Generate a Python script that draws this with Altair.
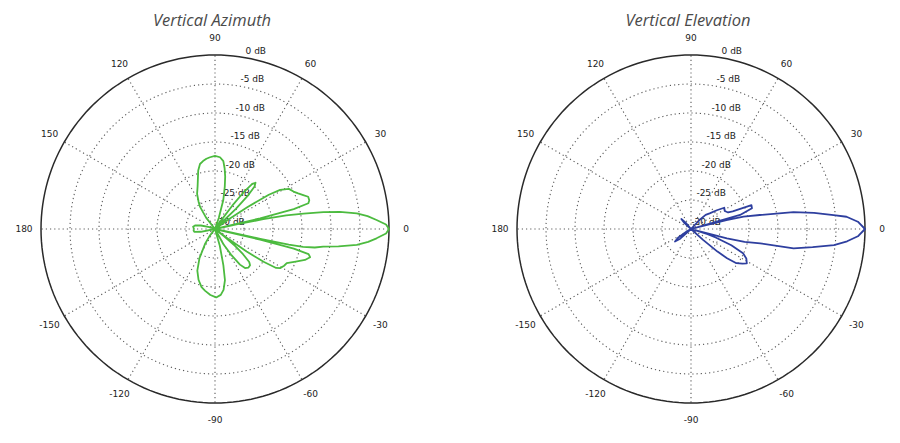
import altair as alt
import pandas as pd
import numpy as np

# ---------------- data ----------------
titles = ["Vertical Azimuth", "Vertical Elevation"]

az_angle = [-180, -176, -172, -169, -165, -150, -135, -128, -124, -118, -113, -108, -103, -99, -94,
            -89, -85, -82, -79, -77, -74, -70, -65, -61, -58, -55, -52.5, -49, -46, -44, -42, -40,
            -38.5, -37.5, -36.5, -35.5, -34, -32.5, -31, -28, -25.5, -22, -19, -16.5, -15, -14,
            -13.3, -12.7, -12.3, -12.0, -11.5, -10.5, -9.3, -8, -6.4, -4.8, -3.3, -1.5, 0,
            1.5, 3.2, 4.8, 6.3, 7.8, 8.9, 9.8, 10.8, 11.5, 12, 12.5, 13.3, 14.2, 15.4, 17, 19.1,
            21, 23.2, 25.5, 28.5, 31, 32.5, 34, 35.5, 37, 42, 44, 45.5, 47, 48.8, 50.5, 52, 53.5,
            55, 57, 68, 71, 74, 77, 79, 81, 83, 86, 90, 94, 97, 100, 103, 106, 108, 112, 117,
            121, 124, 128, 132, 150, 160, 166, 170, 174, 180]
az_db = [-26.4, -26.3, -26.4, -27.5, -30, -31, -30, -28.5, -27, -24.3, -22.2, -20.8, -19.7, -19.2, -18.6,
         -18.2, -18.6, -19.4, -21, -23.6, -27, -30, -30, -27, -24.8, -22.5, -21.5, -21.2, -21.3, -21.8, -23.5, -25.5,
         -28, -30, -27, -23.3, -19.9, -17.5, -16.9, -16.5, -16.3, -15, -13.6, -12.9, -13.3, -16,
         -22, -30, -22, -17, -14.5, -12.5, -11.1, -8.5, -5.4, -3.5, -2.1, -0.5, 0,
         -0.5, -2.1, -3.6, -5.4, -8.3, -11.1, -14.5, -17.5, -21.5, -26, -30, -22, -16, -13.3, -13, -13,
         -13.7, -14.4, -15, -15.5, -16.9, -19, -23.3, -27, -30, -30, -25, -21.8, -20, -19.4, -19.9, -21.8, -25,
         -28.5, -30, -30, -28, -24.8, -22.5, -20.8, -19.4, -18.2, -17.6, -17.4, -17.6, -17.8, -18.1, -18.5, -19.5, -20.5, -22, -23.2,
         -24.5, -25.4, -27.5, -30, -30.5, -29, -27.5, -26.5, -26.2, -26.4]

el_angle = [-180, -160, -150, -146, -142, -138, -134, -120, -60, -46, -42, -40.5, -39, -37, -34,
            -31.6, -28, -25, -22, -19, -17, -15.5, -14.8, -14.6, -13.5, -11.7, -10.7, -8.5, -6.4,
            -4.5, -2.5, 0, 2.5, 4.5, 5.6, 7.5, 9.3, 11.5, 13.2, 14.1, 14.5, 16, 18.8, 21.5, 22.8,
            24, 28, 32.6, 36, 40, 44, 47, 50, 125, 130, 134, 138, 142, 180]
el_db = [-31, -31, -29, -27.3, -26.5, -27.5, -30, -31, -31, -30, -27.2, -24, -22, -20.2, -19.3,
         -18.7, -19.2, -20.1, -22.5, -25.5, -27, -30, -26, -23.6, -20.5, -17.8, -12, -8.8, -5.2,
         -3, -1.2, 0, -1.2, -3.1, -5.3, -8.6, -12.1, -17.9, -20.7, -23.7, -30, -21.2, -18.9, -18.8, -22.2,
         -23, -23.4, -23.2, -24.5, -25.8, -26.5, -28, -31, -31, -28.5, -27.6, -28.5, -31, -31]

ring_levels = [-25, -20, -15, -10, -5]
outer_level = 0
floor_db = -30
spoke_angles = [0, 30, 60, 90, 120, 150, 180, 210, 240, 270, 300, 330]
spoke_labels = ["0", "30", "60", "90", "120", "150", "180", "-150", "-120", "-90", "-60", "-30"]
db_levels = [0, -5, -10, -15, -20, -25, -30]
db_labels = ["0 dB", "-5 dB", "-10 dB", "-15 dB", "-20 dB", "-25 dB", "-30 dB"]

# ---------------- layout ----------------
W, H = 880, 420
K = 5.8              # px per dB
CX = [207, 683]      # panel centres (px)
CY = 221
LABEL_R = 191        # px radius of angle labels
DBLAB_ANG = 80
DBLAB_OFF = 2
TITLE_TOP = 5        # px below top edge
cx_d = [c / K for c in CX]
cy_d = (H - CY) / K
span = -floor_db

xs = alt.Scale(domain=[0, W / K], nice=False, zero=False)
ys = alt.Scale(domain=[0, H / K], nice=False, zero=False)

XE = f"({cx_d[0]} + (datum.p == 0 ? 0 : {cx_d[1] - cx_d[0]}) + datum.rr * cos(datum.a * PI / 180))"
YE = f"({cy_d} + datum.rr * sin(datum.a * PI / 180))"
CXE = f"({cx_d[0]} + (datum.p == 0 ? 0 : {cx_d[1] - cx_d[0]}))"


def xy(ch):
    return ch.transform_calculate(x=XE, y=YE)


def enc_xy():
    return dict(x=alt.X("x:Q", scale=xs, axis=None), y=alt.Y("y:Q", scale=ys, axis=None))


# grid rings
ang_t = np.arange(0, 361, 2)
rows = []
for p in (0, 1):
    for lv in ring_levels + [outer_level]:
        for t in ang_t:
            rows.append({"p": p, "lv": lv, "key": f"{p}_{lv}", "a": float(t), "rr": lv + span})
rings = pd.DataFrame(rows)

dotted = xy(alt.Chart(rings[rings.lv != outer_level])).mark_line(
    color="#5a5a5a", strokeWidth=1.1, strokeDash=[1.2, 3]
).encode(**enc_xy(), detail="key:N", order="a:Q")

outer = xy(alt.Chart(rings[rings.lv == outer_level])).mark_line(
    color="#2a2a2a", strokeWidth=1.5
).encode(**enc_xy(), detail="key:N", order="a:Q")

# spokes
sp = pd.DataFrame([{"p": p, "a": a, "rr": span} for p in (0, 1) for a in spoke_angles])
spokes = alt.Chart(sp).transform_calculate(
    x=CXE, y=f"{cy_d}", x2=XE, y2=YE
).mark_rule(color="#5a5a5a", strokeWidth=1.1, strokeDash=[1.2, 3]).encode(
    x=alt.X("x:Q", scale=xs, axis=None), y=alt.Y("y:Q", scale=ys, axis=None),
    x2="x2:Q", y2="y2:Q"
)

# angle labels
al = pd.DataFrame([{"p": p, "a": a, "t": s, "rr": LABEL_R / K}
                   for p in (0, 1) for a, s in zip(spoke_angles, spoke_labels)])
ang_text = xy(alt.Chart(al)).mark_text(
    font="DejaVu Sans", fontSize=9, color="#222222", align="center", baseline="middle"
).encode(**enc_xy(), text="t:N")

# dB labels
dl = pd.DataFrame([{"p": p, "a": DBLAB_ANG, "t": s, "rr": lv + span + DBLAB_OFF / K}
                   for p in (0, 1) for lv, s in zip(db_levels, db_labels)])
db_text = xy(alt.Chart(dl)).mark_text(
    font="DejaVu Sans", fontSize=9, color="#222222", align="left", baseline="bottom"
).encode(**enc_xy(), text="t:N")

# titles
tl = pd.DataFrame([{"p": p, "t": titles[p]} for p in (0, 1)])
title_text = alt.Chart(tl).transform_calculate(
    x=f"{CXE} - {3 / K}", y=f"{(H - TITLE_TOP) / K}"
).mark_text(
    font="Open Sans", fontStyle="italic", fontSize=16.5, color="#4a4a4a",
    align="center", baseline="top"
).encode(**enc_xy(), text="t:N")

# patterns
az = pd.DataFrame({"p": 0, "i": range(len(az_angle)), "a": az_angle, "db": az_db})
el = pd.DataFrame({"p": 1, "i": range(len(el_angle)), "a": el_angle, "db": el_db})


def pattern(df, color):
    return alt.Chart(df).transform_calculate(
        rr=f"max(datum.db + {span}, 0)"
    ).transform_calculate(x=XE, y=YE).mark_line(
        color=color, strokeWidth=1.8, strokeJoin="round"
    ).encode(**enc_xy(), order="i:Q")


chart = alt.layer(
    dotted, spokes, outer, ang_text, db_text, title_text,
    pattern(az, "#4cbb3f"), pattern(el, "#2e3f9f")
).properties(
    width=W, height=H, padding=0, autosize=alt.AutoSizeParams(type="none")
).configure_view(stroke=None)

chart.save("out.html", embed_options={"renderer": "svg", "actions": False})
